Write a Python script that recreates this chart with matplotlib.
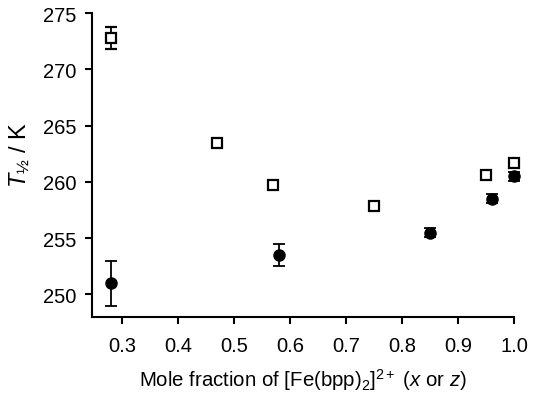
import numpy as np
import matplotlib
matplotlib.use("Agg")
import matplotlib.pyplot as plt

plt.rcParams['font.family'] = ['Liberation Sans', 'DejaVu Sans']
plt.rcParams['mathtext.fontset'] = 'custom'
plt.rcParams['mathtext.rm'] = 'Liberation Sans'
plt.rcParams['mathtext.it'] = 'Liberation Sans:italic'

# open squares
x_sq = [0.28, 0.47, 0.57, 0.75, 0.95, 1.00]
y_sq = [272.8, 263.5, 259.7, 257.9, 260.6, 261.7]
e_sq = [1.0, 0.0, 0.0, 0.0, 0.0, 0.0]

# filled circles
x_ci = [0.28, 0.58, 0.85, 0.96, 1.00]
y_ci = [251.0, 253.5, 255.5, 258.5, 260.5]
e_ci = [2.0, 1.0, 0.4, 0.4, 0.4]

xticks = [0.3, 0.4, 0.5, 0.6, 0.7, 0.8, 0.9, 1.0]
yticks = [250, 255, 260, 265, 270, 275]

fig = plt.figure(figsize=(5.36, 4.02), dpi=100)
ax = fig.add_axes([0.1716, 0.209, 0.959 - 0.1716, 0.965 - 0.209])

eb1 = ax.errorbar(x_ci, y_ci, yerr=e_ci, fmt='o', color='black', ms=8,
                  ecolor='black', elinewidth=1.3, capsize=4, capthick=1.3, zorder=3)
eb2 = ax.errorbar(x_sq, y_sq, yerr=e_sq, fmt='s', mfc='white', mec='black', mew=1.6,
                  ms=7, ecolor='black', elinewidth=1.3, capsize=4, capthick=1.3, zorder=4)
# markers at x=1.0 sit on the edge, don't cut them
for eb in (eb1, eb2):
    for art in eb.get_children():
        art.set_clip_on(False)

ax.set_xlim(0.246, 1.0)
ax.set_ylim(248, 275)
ax.set_xticks(xticks)
ax.set_xticklabels(['%.1f' % t for t in xticks])
ax.set_yticks(yticks)

for s in ['top', 'right']:
    ax.spines[s].set_visible(False)
for s in ['left', 'bottom']:
    ax.spines[s].set_linewidth(1.5)
ax.tick_params(direction='out', length=5, width=1.5, labelsize=14.5)
ax.tick_params(axis='x', pad=9)
ax.tick_params(axis='y', pad=6)

ax.set_xlabel(r'Mole fraction of [Fe(bpp)$_2$]$^{2+}$ ($\mathit{x}$ or $\mathit{z}$)',
              fontsize=14.7, labelpad=8)
ax.set_ylabel(r'$\mathit{T}_{½}$ / K', fontsize=17)
ax.yaxis.set_label_coords(-0.14, 0.536)

fig.savefig('out.png', dpi=100)
